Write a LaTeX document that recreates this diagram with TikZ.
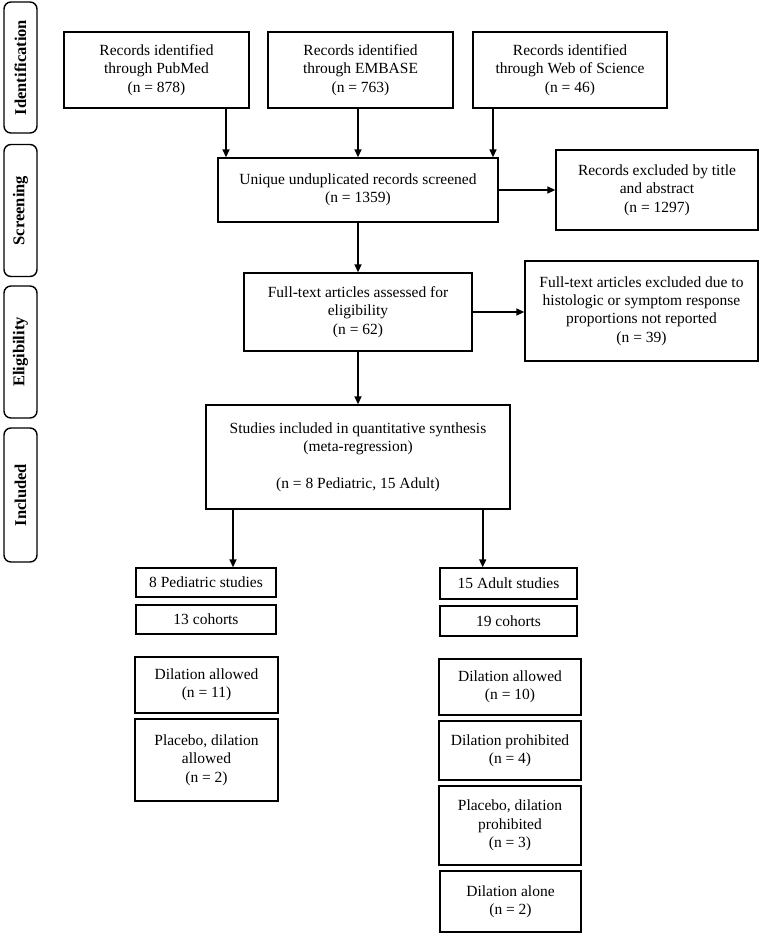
\documentclass[tikz,border=0pt]{standalone}
\usepackage{fontspec}
\setmainfont{Liberation Serif}
\usetikzlibrary{calc,arrows.meta}
\tikzset{box/.style={draw,line width=1.4pt,align=center,inner sep=2pt,font=\fontsize{15.5}{18.3}\selectfont}}
\tikzset{phase/.style={draw,line width=1.4pt,rounded corners=7pt,rotate=90,inner sep=0pt,font=\fontsize{16.5}{18}\selectfont\bfseries}}
\tikzset{arr/.style={-{Triangle[length=8pt,width=7pt]},line width=1.6pt}}
\begin{document}
\begin{tikzpicture}[x=1pt,y=-1pt] % pixel grid of the figure, y going down
  \useasboundingbox (0,0) rectangle (760,935);

  \node[phase,minimum width=131pt,minimum height=33pt] (ident) at (20.5,67.5) {Identification};
  \node[phase,minimum width=132pt,minimum height=33pt] (screen) at (20.5,210.5) {Screening};
  \node[phase,minimum width=132pt,minimum height=33pt] (elig) at (20.5,352) {Eligibility};
  \node[phase,minimum width=134pt,minimum height=33pt] (incd) at (20.5,495) {Included};

  \node[box,minimum width=185pt,minimum height=76pt] (pub) at (156.5,70) {Records identified\\through PubMed\\(n = 878)};
  \node[box,minimum width=185pt,minimum height=76pt] (emb) at (360.5,70) {Records identified\\through EMBASE\\(n = 763)};
  \node[box,minimum width=194pt,minimum height=76pt] (wos) at (570,70) {Records identified\\through Web of Science\\(n = 46)};

  \node[box,minimum width=280pt,minimum height=64pt] (uniq) at (358,190) {Unique unduplicated records screened\\(n = 1359)};
  \node[box,minimum width=202pt,minimum height=80pt] (excl1) at (657,190) {Records excluded by title\\and abstract\\(n = 1297)};

  \node[box,minimum width=228pt,minimum height=78pt] (full) at (358,312) {Full-text articles assessed for\\eligibility\\(n = 62)};
  \node[box,minimum width=233pt,minimum height=100pt] (excl2) at (641.5,311) {Full-text articles excluded due to\\histologic or symptom response\\proportions not reported\\(n = 39)};

  \node[box,minimum width=304pt,minimum height=104pt] (incl) at (358,457) {Studies included in quantitative synthesis\\(meta-regression)\\[18.3pt](n = 8 Pediatric, 15 Adult)};

  % pediatric column
  \node[box,minimum width=140pt,minimum height=29pt] (ped) at (206,582.5) {8 Pediatric studies};
  \node[box,minimum width=140pt,minimum height=29pt] (pedcoh) at (206,619.5) {13 cohorts};
  \node[box,minimum width=143pt,minimum height=56pt] (peddil) at (206.5,685) {Dilation allowed\\(n = 11)};
  \node[box,minimum width=143pt,minimum height=82pt] (pedplac) at (206.5,760) {Placebo, dilation\\allowed\\(n = 2)};

  % adult column
  \node[box,minimum width=137pt,minimum height=31pt] (adu) at (508.5,583.5) {15 Adult studies};
  \node[box,minimum width=137pt,minimum height=30pt] (aducoh) at (508.5,621) {19 cohorts};
  \node[box,minimum width=142pt,minimum height=56pt] (adudil) at (510,687) {Dilation allowed\\(n = 10)};
  \node[box,minimum width=142pt,minimum height=59pt] (aduproh) at (510,750.5) {Dilation prohibited\\(n = 4)};
  \node[box,minimum width=142pt,minimum height=79pt] (aduplac) at (510,825.5) {Placebo, dilation\\prohibited\\(n = 3)};
  \node[box,minimum width=141pt,minimum height=61pt] (adualone) at (510.5,901.5) {Dilation alone\\(n = 2)};

  \coordinate (pubx) at ([xshift=69.5pt]pub.south);
  \coordinate (wosx) at ([xshift=-77pt]wos.south);
  \coordinate (inclL) at ([xshift=27.7pt]incl.south west);
  \coordinate (inclR) at ([xshift=-28pt]incl.south east);

  \draw[arr] (pubx) -- (pubx |- uniq.north);
  \draw[arr] (uniq.north |- emb.south) -- (uniq.north);
  \draw[arr] (wosx) -- (wosx |- uniq.north);
  \draw[arr] (uniq.east) -- (uniq.east -| excl1.west);
  \draw[arr] (uniq.south) -- (uniq.south |- full.north);
  \draw[arr] (full.east) -- (full.east -| excl2.west);
  \draw[arr] (full.south) -- (full.south |- incl.north);
  \draw[arr] (inclL) -- (inclL |- ped.north);
  \draw[arr] (inclR) -- (inclR |- adu.north);
\end{tikzpicture}
\end{document}
